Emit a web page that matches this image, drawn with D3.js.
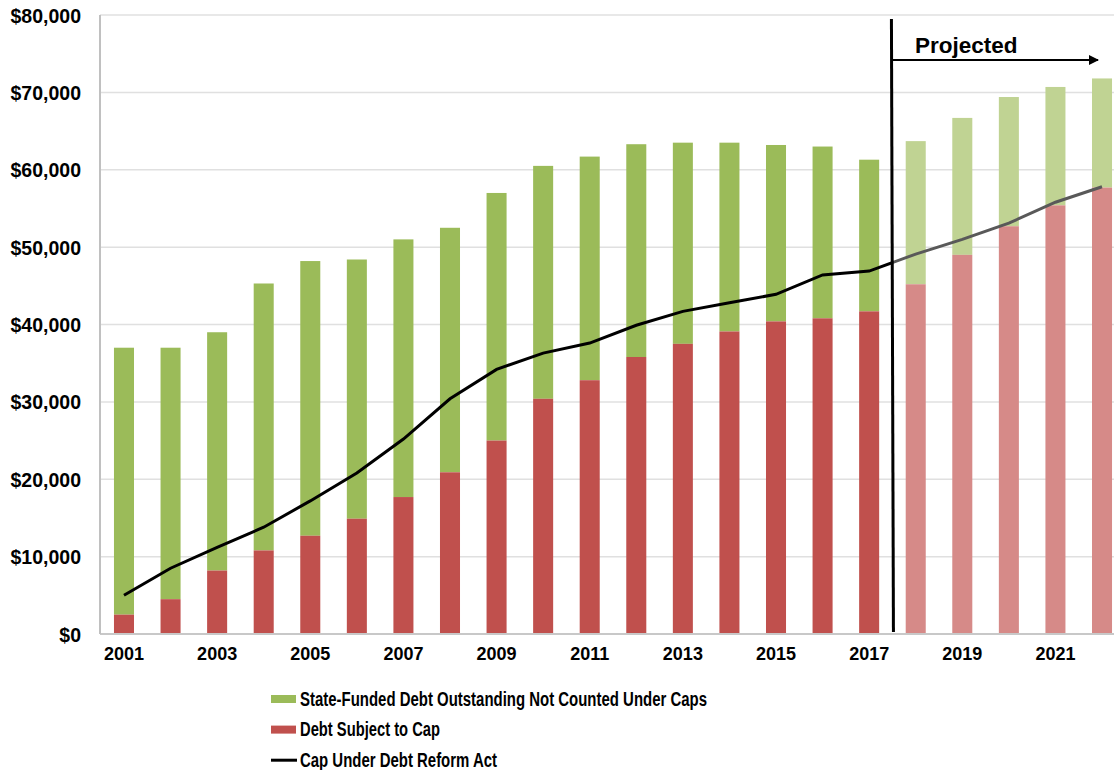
<meta charset="utf-8">
<style>
  body { margin: 0; background: #fff; }
  text { font-family: "Liberation Sans", Arial, sans-serif; font-weight: bold; fill: #000; }
  .grid line { stroke: #e0e0e0; stroke-width: 1.5; }
</style>
<body>
<script src="https://d3js.org/d3.v7.min.js"></script>
<script>
  const years = d3.range(2001, 2023).map(String);
  // debt subject to cap (red part)
  const capped = [2500, 4500, 8200, 10800, 12700, 14900, 17700, 20900, 25000, 30400, 32800,
    35800, 37500, 39100, 40400, 40800, 41700, 45200, 49000, 52700, 55400, 57700];
  // total outstanding (top of the green part)
  const total = [37000, 37000, 39000, 45300, 48200, 48400, 51000, 52500, 57000, 60500, 61700,
    63300, 63500, 63500, 63200, 63000, 61300, 63700, 66700, 69400, 70700, 71800];
  const cap = [5000, 8500, 11200, 13800, 17200, 20800, 25200, 30400, 34200, 36300, 37600,
    39900, 41700, 42800, 43900, 46400, 46900, 49100, 51000, 53100, 55800, 57800];
  const firstProjected = "2018";
  const yTicks = [0, 10000, 20000, 30000, 40000, 50000, 60000, 70000, 80000];
  const xLabels = ["2001", "2003", "2005", "2007", "2009", "2011", "2013", "2015", "2017", "2019", "2021"];
  const legendItems = [
    { label: "State-Funded Debt Outstanding Not Counted Under Caps", kind: "bar", color: "#9bbb59", len: 407 },
    { label: "Debt Subject to Cap", kind: "bar", color: "#c0504d", len: 140 },
    { label: "Cap Under Debt Reform Act", kind: "line", color: "#000", len: 197 }
  ];

  const width = 1114, height = 770;
  const plotLeft = 100, plotTop = 15, plotBottom = 634;

  const svg = d3.select("body").append("svg")
    .attr("width", width).attr("height", height);

  const x = d3.scaleBand().domain(years).range([100.7, 1125.3]).paddingInner(0.57).paddingOuter(0.285);
  const y = d3.scaleLinear().domain([0, 80000]).range([plotBottom, plotTop]);

  // gridlines
  svg.append("g").attr("class", "grid")
    .selectAll("line").data(yTicks.slice(1)).join("line")
    .attr("x1", plotLeft).attr("x2", width)
    .attr("y1", d => y(d)).attr("y2", d => y(d));

  // y axis labels
  const yAxis = svg.append("g").attr("transform", `translate(${plotLeft},0)`)
    .call(d3.axisLeft(y).tickValues(yTicks).tickSize(0).tickPadding(19)
      .tickFormat(d => "$" + d3.format(",")(d)));
  yAxis.select(".domain").remove();
  yAxis.selectAll("text").style("font-size", "19.5px").attr("dy", "0.36em");

  // bars
  const isProj = d => +d >= +firstProjected;
  const bars = svg.append("g");
  bars.selectAll(".green").data(years).join("rect")
    .attr("x", d => x(d)).attr("width", x.bandwidth())
    .attr("y", (d, i) => y(total[i]))
    .attr("height", (d, i) => y(capped[i]) - y(total[i]))
    .attr("fill", d => isProj(d) ? "#c0d393" : "#9bbb59");
  bars.selectAll(".red").data(years).join("rect")
    .attr("x", d => x(d)).attr("width", x.bandwidth())
    .attr("y", (d, i) => y(capped[i]))
    .attr("height", (d, i) => y(0) - y(capped[i]))
    .attr("fill", d => isProj(d) ? "#d68a88" : "#c0504d");

  // axes lines
  svg.append("line").attr("x1", plotLeft).attr("x2", width).attr("y1", plotBottom).attr("y2", plotBottom)
    .attr("stroke", "#c8c8c8").attr("stroke-width", 2);
  svg.append("line").attr("x1", plotLeft).attr("x2", plotLeft).attr("y1", plotTop).attr("y2", plotBottom)
    .attr("stroke", "#c0c0c0").attr("stroke-width", 2);

  // x labels
  const xAxis = svg.append("g").attr("transform", `translate(0,${plotBottom})`)
    .call(d3.axisBottom(x).tickValues(xLabels).tickSize(0).tickPadding(13));
  xAxis.select(".domain").remove();
  xAxis.selectAll("text").style("font-size", "18px");

  // divider between actual and projected
  const divX = x(firstProjected) - (x.step() - x.bandwidth()) / 2;

  const defs = svg.append("defs");
  defs.append("clipPath").attr("id", "past").append("rect")
    .attr("x", 0).attr("y", 0).attr("width", divX).attr("height", height);
  defs.append("clipPath").attr("id", "future").append("rect")
    .attr("x", divX).attr("y", 0).attr("width", width - divX).attr("height", height);
  defs.append("marker").attr("id", "arrow").attr("viewBox", "0 0 10 10")
    .attr("refX", 9).attr("refY", 5).attr("markerWidth", 5).attr("markerHeight", 5)
    .attr("orient", "auto")
    .append("path").attr("d", "M0,0L10,5L0,10Z").attr("fill", "#000");

  // cap line
  const line = d3.line().x((d, i) => x(years[i]) + x.bandwidth() / 2).y(d => y(d));
  svg.append("path").datum(cap).attr("d", line)
    .attr("fill", "none").attr("stroke", "#000").attr("stroke-width", 3)
    .attr("clip-path", "url(#past)");
  svg.append("path").datum(cap).attr("d", line)
    .attr("fill", "none").attr("stroke", "#595959").attr("stroke-width", 3)
    .attr("clip-path", "url(#future)");

  svg.append("line").attr("x1", divX - 1).attr("x2", divX + 1).attr("y1", 19).attr("y2", 632)
    .attr("stroke", "#000").attr("stroke-width", 3);
  svg.append("line").attr("x1", divX).attr("x2", 1098).attr("y1", 60).attr("y2", 60)
    .attr("stroke", "#000").attr("stroke-width", 2).attr("marker-end", "url(#arrow)");
  svg.append("text").attr("x", 915).attr("y", 53).style("font-size", "22.5px").text("Projected");

  // legend
  const lg = svg.append("g").attr("transform", "translate(271,699)");
  const row = lg.selectAll("g").data(legendItems).join("g")
    .attr("transform", (d, i) => `translate(0,${i * 30.6})`);
  row.filter(d => d.kind === "bar").append("rect")
    .attr("x", 0).attr("y", -4).attr("width", 25).attr("height", 8).attr("fill", d => d.color);
  row.filter(d => d.kind === "line").append("line")
    .attr("x1", 0).attr("x2", 26).attr("y1", 0).attr("y2", 0)
    .attr("stroke", d => d.color).attr("stroke-width", 3);
  row.append("text").attr("x", 29).attr("y", 6.5)
    .style("font-size", "19.5px")
    .attr("textLength", d => d.len).attr("lengthAdjust", "spacingAndGlyphs")
    .text(d => d.label);
</script>
</body>
